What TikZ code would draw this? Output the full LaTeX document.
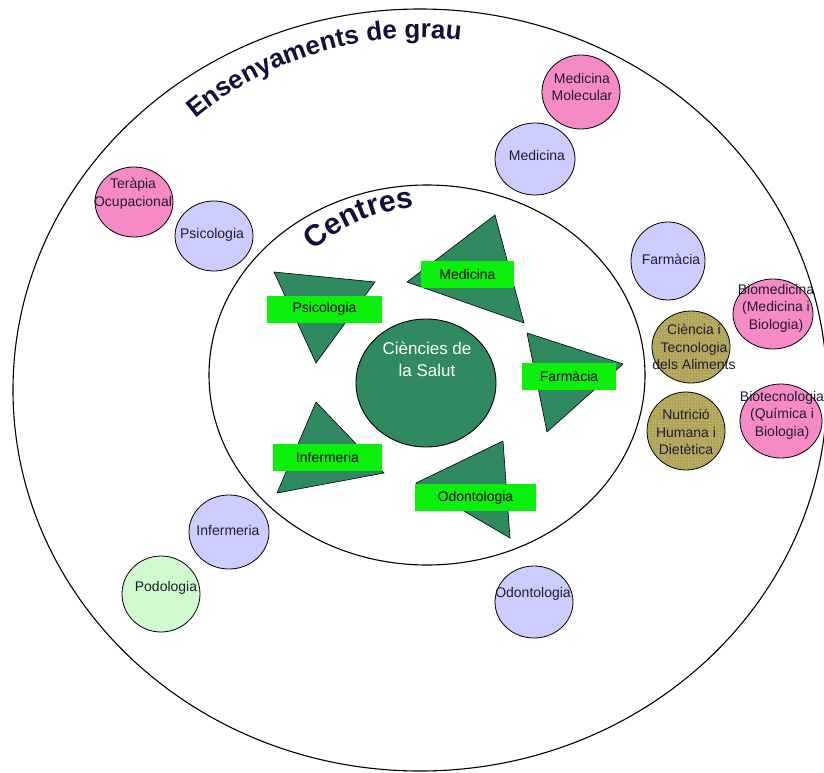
\documentclass[tikz,border=0pt]{standalone}
\usepackage{fontspec}
\setmainfont{Liberation Sans}
\usetikzlibrary{decorations.text,patterns}

\definecolor{lila}{RGB}{204,204,255}
\definecolor{rosa}{RGB}{246,138,196}
\definecolor{verdclar}{RGB}{206,250,206}
\definecolor{oliva}{RGB}{184,172,96}
\definecolor{olivafosc}{RGB}{110,100,45}
\definecolor{verdfosc}{RGB}{47,138,96}
\definecolor{verdviu}{RGB}{10,240,10}
\definecolor{blaufosc}{RGB}{16,16,56}
\definecolor{tinta}{RGB}{30,30,50}

\newcommand{\titolgran}{\fontsize{26}{30}\selectfont\bfseries}
\newcommand{\titolcentre}{\fontsize{30}{34}\selectfont\bfseries}

\begin{document}
\begin{tikzpicture}[x=1pt,y=-1pt]
\tikzstyle{every node}+=[inner sep=0pt, align=center, font=\fontsize{14}{17.5}\selectfont, text=tinta]
\tikzstyle{grau}=[draw=black, line width=0.8pt]
\tikzstyle{alim}=[draw=black, line width=0.8pt, fill=oliva, postaction={pattern=dots, pattern color=olivafosc}]
\tikzstyle{tri}=[draw=black, line width=0.6pt, fill=verdfosc]
\tikzstyle{etiqueta}=[fill=verdviu, minimum height=27, text=black]
\useasboundingbox (0,0) rectangle (824,773);

\draw [black, line width=1.1pt] (420,390) ellipse (407 and 381);
\draw [black, line width=1.1pt] (427,375) ellipse (218 and 190);

\path [decorate, decoration={text along path, text align=center, text color=blaufosc,
  text={|\titolgran|Ensenyaments de grau}}] (420,390) ++(-133:352) arc [start angle=-133, end angle=-80, radius=352];
\path [decorate, decoration={text along path, text align=center, text color=blaufosc,
  text={|\titolcentre|Centres}}] (427,375) ++(-140:168) arc [start angle=-140, end angle=-87, radius=168];

\draw [grau, fill=rosa] (581,92) ellipse (39 and 37);
\node (mmol) at (582,87) {Medicina\\Molecular};
\draw [grau, fill=lila] (535,159) ellipse (40 and 36);
\node (med) at (537,155) {Medicina};
\draw [grau, fill=rosa] (134,202) ellipse (39 and 35);
\node (tocup) at (133,194) {Teràpia\\Ocupacional};
\draw [grau, fill=lila] (214,236) ellipse (39 and 35);
\node (psi) at (212,235) {Psicologia};
\draw [grau, fill=lila] (668,261) ellipse (37 and 39);
\node (far) at (671,259) {Farmàcia};
\draw [alim] (691,347) ellipse (39 and 36);
\node (cta) at (694,347) {Ciència i\\Tecnologia\\dels Aliments};
\draw [alim] (686,431) ellipse (39 and 39);
\node (nhd) at (686,432) {Nutrició\\Humana i\\Dietètica};
\draw [grau, fill=rosa] (773,314) ellipse (40 and 35);
\node (biomed) at (776,308) {Biomedicina\\(Medicina i\\Biologia)};
\draw [grau, fill=rosa] (781,421) ellipse (41 and 37);
\node (biotec) at (782,415) {Biotecnologia\\(Química i\\Biologia)};
\draw [grau, fill=lila] (229,532) ellipse (40 and 37);
\node (inf) at (228,530) {Infermeria};
\draw [grau, fill=verdclar] (161,594) ellipse (39 and 38);
\node (pod) at (166,588) {Podologia};
\draw [grau, fill=lila] (534,602) ellipse (39 and 36);
\node (odo) at (533,594) {Odontologia};

\draw [tri] (274,272) -- (375,282) -- (316,363) -- cycle;
\draw [tri] (495,215) -- (407,282) -- (524,323) -- cycle;
\draw [tri] (527,333) -- (623,364) -- (547,432) -- cycle;
\draw [tri] (503,441) -- (416,483) -- (510,538) -- cycle;
\draw [tri] (316,402) -- (384,473) -- (277,493) -- cycle;

\draw [black, line width=0.9pt, fill=verdfosc] (426,383) ellipse (70 and 64);
\node [text=white, font=\fontsize{17}{22}\selectfont] (salut) at (427,359) {Ciències de\\la Salut};

\node [etiqueta, minimum width=115] (cpsi) at (324.5,309) {Psicologia};
\node [etiqueta, minimum width=93] (cmed) at (467.5,274.5) {Medicina};
\node [etiqueta, minimum width=94] (cfar) at (569,376) {Farmàcia};
\node [etiqueta, minimum width=121] (codo) at (475.5,497.5) {Odontologia};
\node [etiqueta, minimum width=109] (cinf) at (327.5,457.5) {Infermeria};
\end{tikzpicture}
\end{document}
